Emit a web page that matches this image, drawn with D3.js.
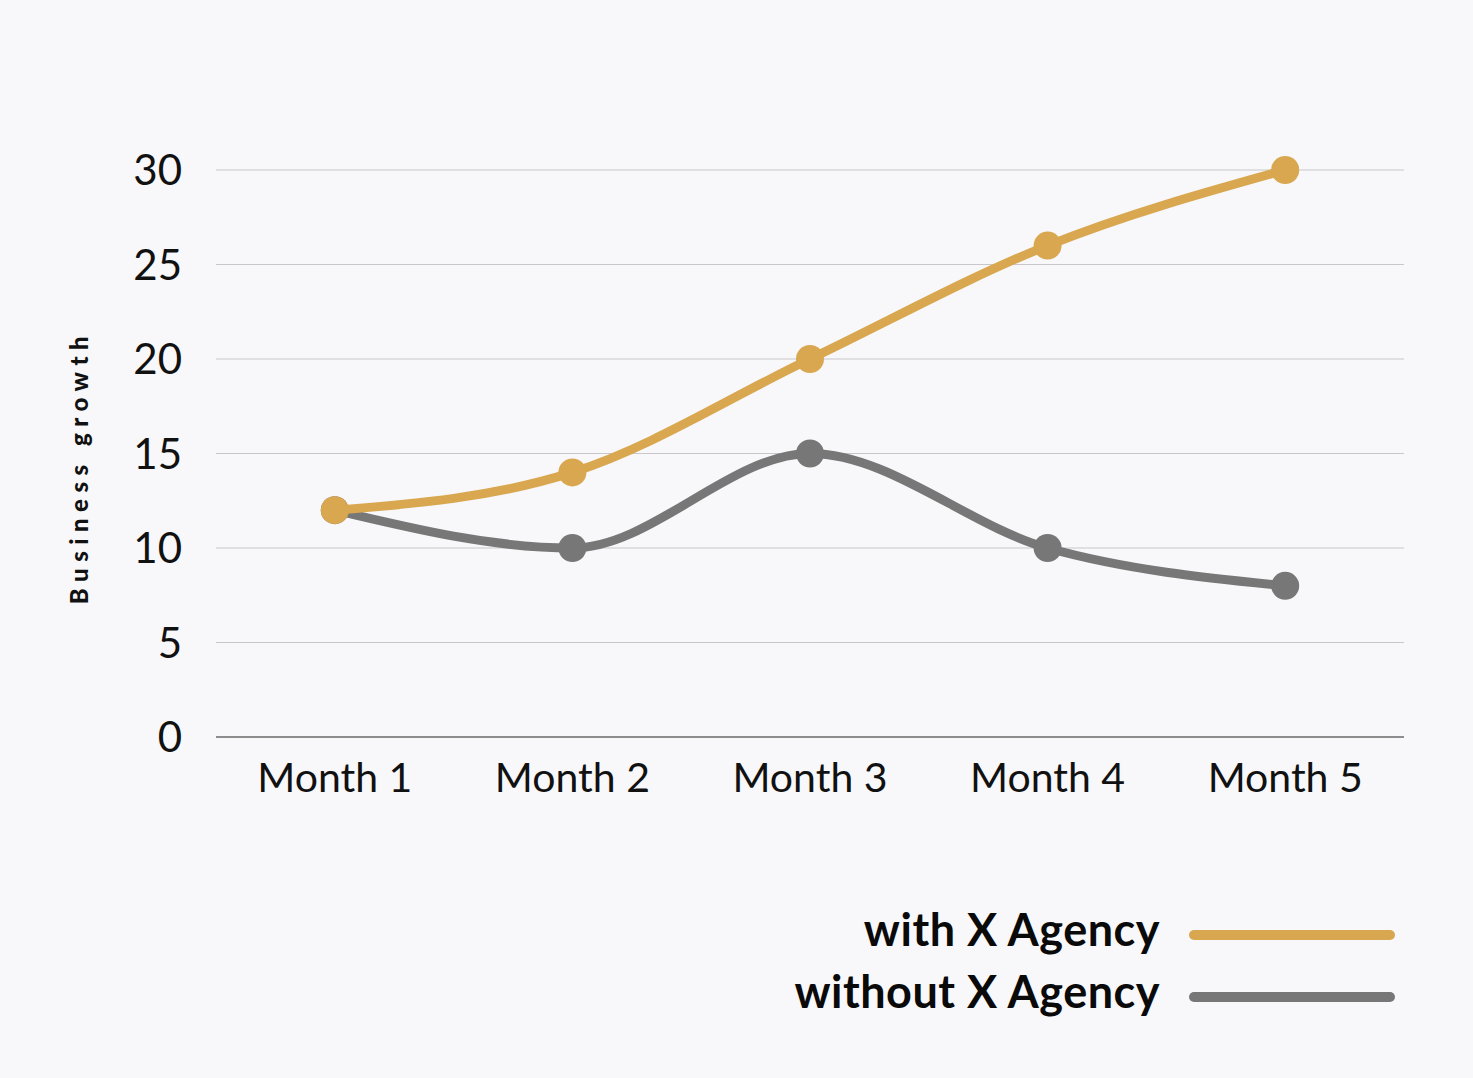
<!DOCTYPE html>
<html>
<head>
<meta charset="utf-8">
<script src="https://cdnjs.cloudflare.com/ajax/libs/d3/7.8.5/d3.min.js"></script>
<style>
  html, body { margin: 0; padding: 0; background: #f8f8fa; }
  svg { display: block; font-family: "Lato", "Noto Sans", sans-serif; }
</style>
</head>
<body>
<svg id="chart" width="1473" height="1078"></svg>
<script>
// chart data
var months = ["Month 1", "Month 2", "Month 3", "Month 4", "Month 5"];
var withAgency = [12, 14, 20, 26, 30];
var withoutAgency = [12, 10, 15, 10, 8];
var yTicks = [0, 5, 10, 15, 20, 25, 30];
var seriesNames = ["with X Agency", "without X Agency"];
var seriesColors = ["#d9a74f", "#777778"];

var svg = d3.select("#chart");
var plotLeft = 216, plotRight = 1404, plotTop = 170, plotBottom = 737;

svg.append("rect").attr("width", 1473).attr("height", 1078).attr("fill", "#f8f8fa");

var x = d3.scaleBand().domain(months).range([plotLeft, plotRight]);
var y = d3.scaleLinear().domain([0, 30]).range([plotBottom, plotTop]);

// gridlines
svg.append("g")
  .selectAll("line")
  .data(yTicks)
  .enter().append("line")
    .attr("x1", plotLeft)
    .attr("x2", plotRight)
    .attr("y1", function(d) { return y(d); })
    .attr("y2", function(d) { return y(d); })
    .attr("stroke", function(d) { return d === 0 ? "#6a6a6a" : "#c8c8cc"; })
    .attr("stroke-width", function(d) { return d === 0 ? 1.5 : 1.2; });

// y tick labels
svg.append("g")
  .selectAll("text")
  .data(yTicks)
  .enter().append("text")
    .attr("x", 182)
    .attr("y", function(d) { return y(d); })
    .attr("dy", "0.36em")
    .attr("text-anchor", "end")
    .attr("font-size", 42)
    .attr("fill", "#111")
    .text(function(d) { return d; });

// x tick labels
svg.append("g")
  .selectAll("text")
  .data(months)
  .enter().append("text")
    .attr("x", function(d) { return x(d) + x.bandwidth() / 2; })
    .attr("y", 792)
    .attr("text-anchor", "middle")
    .attr("font-size", 41)
    .attr("fill", "#111")
    .text(function(d) { return d; });

// y axis title
svg.append("text")
  .attr("transform", "translate(88,467)rotate(-90)")
  .attr("text-anchor", "middle")
  .attr("font-size", 24)
  .attr("font-weight", 900)
  .attr("letter-spacing", "6.5px")
  .attr("fill", "#111")
  .text("Business growth");

var line = d3.line()
  .x(function(d, i) { return x(months[i]) + x.bandwidth() / 2; })
  .y(function(d) { return y(d); })
  .curve(d3.curveMonotoneX);

[withoutAgency, withAgency].forEach(function(vals, k) {
  var color = k === 0 ? seriesColors[1] : seriesColors[0];
  var g = svg.append("g");
  g.append("path")
    .attr("d", line(vals))
    .attr("fill", "none")
    .attr("stroke", color)
    .attr("stroke-width", 9)
    .attr("stroke-linecap", "round");
  g.selectAll("circle")
    .data(vals)
    .enter().append("circle")
      .attr("cx", function(d, i) { return x(months[i]) + x.bandwidth() / 2; })
      .attr("cy", function(d) { return y(d); })
      .attr("r", 14)
      .attr("fill", color);
});

// legend
var legend = svg.append("g")
  .selectAll("g")
  .data(seriesNames)
  .enter().append("g")
    .attr("transform", function(d, i) { return "translate(0," + (935 + i * 62) + ")"; });

legend.append("text")
  .attr("x", 1160)
  .attr("dy", "0.25em")
  .attr("text-anchor", "end")
  .attr("font-size", 45)
  .attr("font-weight", 700)
  .attr("letter-spacing", "0.5px")
  .attr("fill", "#0a0a0a")
  .text(function(d) { return d; });

legend.append("line")
  .attr("x1", 1194)
  .attr("x2", 1390)
  .attr("stroke", function(d, i) { return seriesColors[i]; })
  .attr("stroke-width", 10)
  .attr("stroke-linecap", "round");
</script>
</body>
</html>
